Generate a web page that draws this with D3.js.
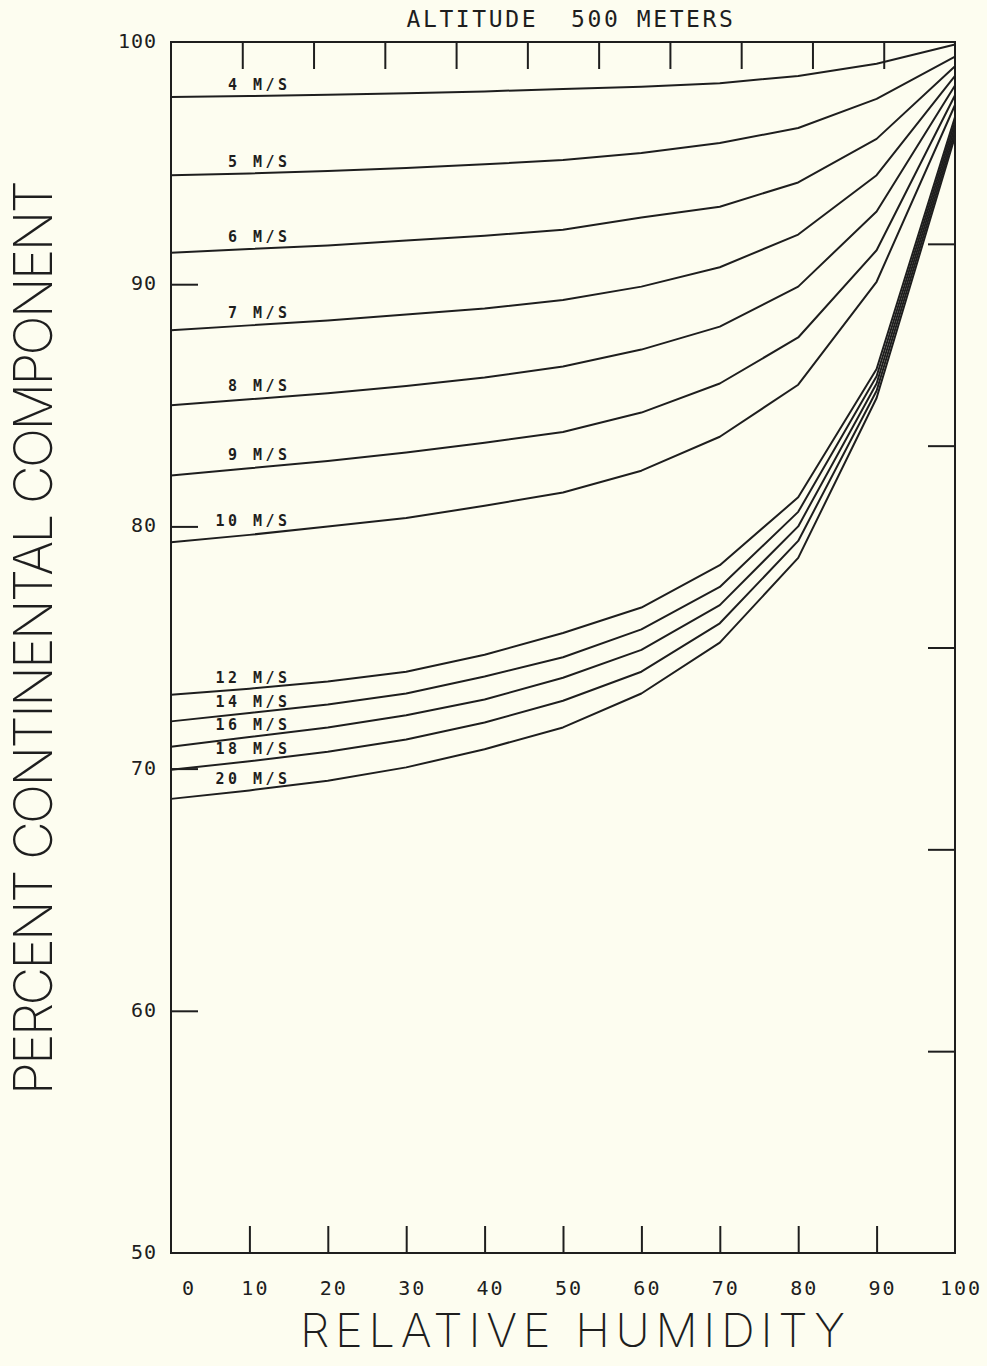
<!DOCTYPE html>
<html>
<head>
<meta charset="utf-8">
<script src="https://cdn.jsdelivr.net/npm/d3@7"></script>
<style>
  html, body { margin: 0; padding: 0; background: #fdfdf0; }
  svg { display: block; }
  text { font-family: "DejaVu Sans Mono", "Liberation Mono", monospace; fill: #1e1e1e; }
  text.big { font-family: "Inter", "Open Sans", "DejaVu Sans", sans-serif; font-weight: 200; }
</style>
</head>
<body>
<svg id="chart" width="987" height="1366"></svg>
<script>
// ---- data ----
const humidity = [0, 10, 20, 30, 40, 50, 60, 70, 80, 90, 100];
const windLabels = ["4 M/S", "5 M/S", "6 M/S", "7 M/S", "8 M/S", "9 M/S", "10 M/S",
                    "12 M/S", "14 M/S", "16 M/S", "18 M/S", "20 M/S"];
const wind4  = [97.73, 97.77, 97.82, 97.88, 97.96, 98.06, 98.15, 98.30, 98.60, 99.10, 99.90];
const wind5  = [94.50, 94.57, 94.67, 94.80, 94.95, 95.13, 95.42, 95.83, 96.45, 97.65, 99.40];
const wind6  = [91.30, 91.45, 91.60, 91.80, 92.00, 92.25, 92.75, 93.20, 94.20, 96.00, 99.00];
const wind7  = [88.10, 88.30, 88.50, 88.75, 89.00, 89.35, 89.90, 90.70, 92.05, 94.50, 98.60];
const wind8  = [85.00, 85.25, 85.50, 85.80, 86.15, 86.60, 87.30, 88.25, 89.90, 93.00, 98.20];
const wind9  = [82.10, 82.40, 82.70, 83.05, 83.45, 83.90, 84.70, 85.90, 87.80, 91.40, 97.80];
const wind10 = [79.35, 79.65, 80.00, 80.35, 80.85, 81.40, 82.30, 83.70, 85.85, 90.10, 97.40];
const wind12 = [73.05, 73.30, 73.60, 74.00, 74.70, 75.60, 76.65, 78.40, 81.20, 86.50, 96.90];
const wind14 = [71.95, 72.30, 72.65, 73.10, 73.80, 74.60, 75.75, 77.50, 80.60, 86.20, 96.70];
const wind16 = [70.90, 71.30, 71.70, 72.20, 72.85, 73.75, 74.90, 76.75, 80.00, 85.90, 96.50];
const wind18 = [69.95, 70.30, 70.70, 71.20, 71.90, 72.80, 74.00, 76.00, 79.40, 85.60, 96.30];
const wind20 = [68.75, 69.10, 69.50, 70.05, 70.80, 71.70, 73.10, 75.20, 78.70, 85.30, 96.10];
const seriesValues = [wind4, wind5, wind6, wind7, wind8, wind9, wind10,
                      wind12, wind14, wind16, wind18, wind20];

const xTickLabels = [0, 10, 20, 30, 40, 50, 60, 70, 80, 90, 100];
const xInnerTicks = [10, 20, 30, 40, 50, 60, 70, 80, 90];
const yTickLabels = [100, 90, 80, 70, 60, 50];
const yLeftTicks = [90, 80, 70, 60];
const topDivisionTicks = [1, 2, 3, 4, 5, 6, 7, 8, 9, 10];   // 11 divisions along the top
const rightDivisionTicks = [1, 2, 3, 4, 5];                 // 6 divisions along the right
const titleText = "ALTITUDE  500 METERS";
const xTitle = "RELATIVE HUMIDITY";
const yTitle = "PERCENT CONTINENTAL COMPONENT";
const labelAt = 15; // humidity where curve labels end

// ---- layout ----
const L = 171, R = 955, T = 42, B = 1253;
const ink = "#1e1e1e";
const svg = d3.select("#chart");

const x = d3.scaleLinear().domain([0, 100]).range([L, R]);
const y = d3.scaleLinear().domain([50, 100]).range([B, T]);
const xTop = d3.scaleLinear().domain([0, 11]).range([L, R]);
const yRight = d3.scaleLinear().domain([0, 6]).range([B, T]);

// frame
svg.append("rect").attr("x", L).attr("y", T).attr("width", R - L).attr("height", B - T)
  .attr("fill", "none").attr("stroke", ink).attr("stroke-width", 2);

const tickLen = 27;
const styleTicks = g => { g.select(".domain").remove(); g.selectAll("line").attr("stroke", ink).attr("stroke-width", 2); };
svg.append("g").attr("transform", `translate(0,${B})`)
  .call(d3.axisBottom(x).tickValues(xInnerTicks).tickSize(-tickLen).tickFormat("")).call(styleTicks);
svg.append("g").attr("transform", `translate(0,${T})`)
  .call(d3.axisTop(xTop).tickValues(topDivisionTicks).tickSize(-tickLen).tickFormat("")).call(styleTicks);
svg.append("g").attr("transform", `translate(${L},0)`)
  .call(d3.axisLeft(y).tickValues(yLeftTicks).tickSize(-tickLen).tickFormat("")).call(styleTicks);
svg.append("g").attr("transform", `translate(${R},0)`)
  .call(d3.axisRight(yRight).tickValues(rightDivisionTicks).tickSize(-tickLen).tickFormat("")).call(styleTicks);

// x tick labels
svg.append("g").selectAll("text").data(xTickLabels).join("text")
  .attr("x", (d, i) => x(d) + (i === 0 ? 18 : 6))
  .attr("y", B + 42)
  .attr("text-anchor", "middle")
  .attr("font-size", 20).attr("letter-spacing", 2)
  .text(d => d);

// y tick labels
svg.append("g").selectAll("text").data(yTickLabels).join("text")
  .attr("x", L - 14)
  .attr("y", d => y(d) + 6)
  .attr("text-anchor", "end")
  .attr("font-size", 20).attr("letter-spacing", 1)
  .text(d => d);

// curves
const line = d3.line().x((d, i) => x(humidity[i])).y(d => y(d));
svg.append("g").selectAll("path").data(seriesValues).join("path")
  .attr("d", d => line(d))
  .attr("fill", "none").attr("stroke", ink).attr("stroke-width", 2)
  .attr("stroke-linejoin", "round");

// curve labels
const interp = (vals, h) => {
  const i = d3.bisectRight(humidity, h) - 1;
  const t = (h - humidity[i]) / (humidity[i + 1] - humidity[i]);
  return vals[i] + t * (vals[i + 1] - vals[i]);
};
svg.append("g").selectAll("text").data(windLabels).join("text")
  .attr("x", x(labelAt) + 2)
  .attr("y", (d, i) => y(interp(seriesValues[i], labelAt)) - (i < 7 ? 5 : 2))
  .attr("text-anchor", "end")
  .attr("font-size", 15).attr("font-weight", "bold").attr("letter-spacing", 3.5)
  .text(d => d);

// title
svg.append("text").attr("x", (L + R) / 2 + 8).attr("y", 27)
  .attr("text-anchor", "middle").attr("font-size", 23).attr("letter-spacing", 2.6)
  .attr("xml:space", "preserve")
  .text(titleText);

// axis titles
svg.append("text").attr("class", "big").attr("x", 300).attr("y", 1347)
  .attr("font-size", 47).attr("textLength", 545).attr("lengthAdjust", "spacing")
  .text(xTitle);
svg.append("text").attr("class", "big").attr("transform", `translate(52,1095) rotate(-90)`)
  .attr("font-size", 53).attr("textLength", 915).attr("lengthAdjust", "spacing")
  .text(yTitle);
</script>
</body>
</html>
